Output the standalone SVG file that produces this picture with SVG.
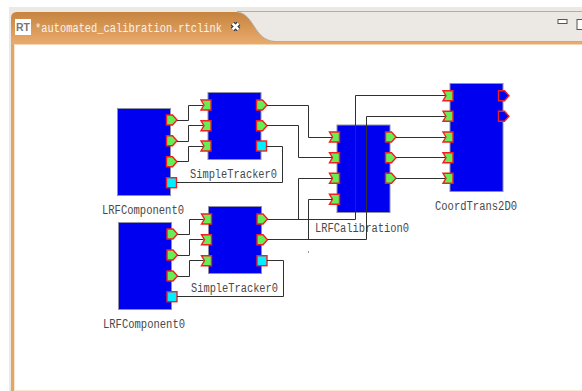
<svg xmlns="http://www.w3.org/2000/svg" width="582" height="391" viewBox="0 0 582 391">
<style>
.block{fill:#0000f0;stroke:#8f8fa8;stroke-width:1}
.in{fill:#66ee55;stroke:#f02020;stroke-width:1.400}
.out{fill:#66ee55;stroke:#f02020;stroke-width:1.400}
.svc{fill:#00eeff;stroke:#f02020;stroke-width:1.400}
.blue{fill:#0000f0;stroke:#f02020;stroke-width:1.400}
.lbl{font-family:"Liberation Mono","DejaVu Sans Mono",monospace;font-size:12px;fill:#484848}
.wire{fill:none;stroke:#303030;stroke-width:1}
</style>
<defs>
<linearGradient id="tabg" x1="0" y1="0" x2="0" y2="1"><stop offset="0" stop-color="#c6843f"/><stop offset="1" stop-color="#e9ab6c"/></linearGradient>
<path id="pin" class="in" d="M-5,-5H5V5H-5L-2,0Z"/>
<path id="pout" class="out" d="M-5,-5H1L5.500,0L1,5H-5Z"/>
<path id="pblue" class="blue" d="M-5,-5H1L5.500,0L1,5H-5Z"/>
<rect id="psvc" class="svc" x="-5" y="-5" width="10" height="10"/>
</defs>
<rect width="582" height="391" fill="#fff"/>
<g id="window">
<rect x="9" y="7" width="573" height="37" fill="#ece9e4"/>
<rect x="9" y="44" width="2" height="347" fill="#ece9e4"/>
<path d="M237,11.500H582" stroke="#b5aea5" stroke-width="1" fill="none"/>
<path d="M272,41.500H582" stroke="#b5aea5" stroke-width="1" fill="none"/>
<rect x="14" y="42" width="568" height="2.500" fill="#e9ab6c"/>
<path d="M11,44V18Q11,12 17,12H237C255,14 253,40 275,41.500L275,44Z" fill="url(#tabg)"/>
<path d="M237,12C255,14 253,40 275,41.500" fill="none" stroke="#b5aea5" stroke-width="1"/>
<rect x="11" y="44" width="3" height="347" fill="#e2a566"/>
<rect x="14" y="44" width="1" height="347" fill="#fbe6d2"/>
<rect x="14" y="390" width="568" height="1" fill="#fbe6d2"/>
<rect x="15" y="19" width="16" height="16" fill="#fff"/>
<text x="16" y="31" font-family="Liberation Sans,sans-serif" font-size="10" font-weight="700" fill="#777" textLength="14" lengthAdjust="spacingAndGlyphs">RT</text>
<text x="35" y="32" font-family="Liberation Mono,monospace" font-size="12" fill="#fbf3ea" textLength="187" lengthAdjust="spacingAndGlyphs">*automated_calibration.rtclink</text>
<path d="M232.500,23.500L238.500,29.500M238.500,23.500L232.500,29.500" stroke="#333" stroke-width="5" fill="none"/>
<path d="M232.500,23.500L238.500,29.500M238.500,23.500L232.500,29.500" stroke="#fff" stroke-width="2.500" fill="none"/>
<rect x="558" y="19.500" width="9" height="4" fill="#fff" stroke="#555" stroke-width="1"/>
<rect x="577" y="19.500" width="8" height="10" fill="#fff" stroke="#555" stroke-width="1"/>
</g>
<g id="LRFComponent0-a">
<rect class="block" x="117.500" y="108.500" width="53" height="87"/>
<use href="#pout" x="171.500" y="120"/><use href="#pout" x="171.500" y="140.700"/><use href="#pout" x="171.500" y="161.700"/><use href="#psvc" x="171.500" y="182.700"/>
<text class="lbl" x="102" y="214" textLength="82" lengthAdjust="spacingAndGlyphs">LRFComponent0</text>
</g>
<g id="SimpleTracker0-a">
<rect class="block" x="208" y="92.500" width="53" height="67"/>
<use href="#pin" x="206" y="105"/><use href="#pin" x="206" y="125.700"/><use href="#pin" x="206" y="146"/>
<use href="#pout" x="261.500" y="105"/><use href="#pout" x="261.500" y="125.700"/><use href="#psvc" x="261.500" y="146"/>
<text class="lbl" x="190" y="178" textLength="87" lengthAdjust="spacingAndGlyphs">SimpleTracker0</text>
</g>
<g id="LRFComponent0-b">
<rect class="block" x="118.500" y="222.500" width="53" height="87"/>
<use href="#pout" x="172" y="234"/><use href="#pout" x="172" y="255"/><use href="#pout" x="172" y="276"/><use href="#psvc" x="172" y="296.700"/>
<text class="lbl" x="103" y="328" textLength="82" lengthAdjust="spacingAndGlyphs">LRFComponent0</text>
</g>
<g id="SimpleTracker0-b">
<rect class="block" x="208.500" y="206.500" width="53" height="67"/>
<use href="#pin" x="206.500" y="219"/><use href="#pin" x="206.500" y="239.700"/><use href="#pin" x="206.500" y="260.700"/>
<use href="#pout" x="262" y="219"/><use href="#pout" x="262" y="239.700"/><use href="#psvc" x="262" y="260.700"/>
<text class="lbl" x="191" y="292" textLength="87" lengthAdjust="spacingAndGlyphs">SimpleTracker0</text>
</g>
<g id="LRFCalibration0">
<rect class="block" x="337" y="125" width="53" height="87.500"/>
<use href="#pin" x="334.500" y="137"/><use href="#pin" x="334.500" y="157.700"/><use href="#pin" x="334.500" y="178.300"/><use href="#pin" x="334.500" y="199.300"/>
<use href="#pout" x="390.500" y="137"/><use href="#pout" x="390.500" y="157.700"/><use href="#pout" x="390.500" y="178.300"/>
<text class="lbl" x="315" y="232" textLength="94" lengthAdjust="spacingAndGlyphs">LRFCalibration0</text>
</g>
<g id="CoordTrans2D0">
<rect class="block" x="450" y="83.500" width="53" height="108"/>
<use href="#pin" x="448" y="95.700"/><use href="#pin" x="448" y="116.300"/><use href="#pin" x="448" y="137"/><use href="#pin" x="448" y="157.700"/><use href="#pin" x="448" y="178.300"/>
<use href="#pblue" x="503.500" y="95.700"/><use href="#pblue" x="503.500" y="116.300"/>
<text class="lbl" x="435" y="210" textLength="82" lengthAdjust="spacingAndGlyphs">CoordTrans2D0</text>
</g>
<g id="connectors" class="wire">
<path class="wire" d="M177,120.500H188.500V105.500H203"/>
<path class="wire" d="M177,141.500H188.500V125.500H203"/>
<path class="wire" d="M177,161.500H188.500V146.500H203"/>
<path class="wire" d="M266.500,146.500H282.500V182.500H176.500"/>
<path class="wire" d="M177.500,234.500H189.500V219.500H203.500"/>
<path class="wire" d="M177.500,255.500H189.500V239.500H203.500"/>
<path class="wire" d="M177.500,276.500H189.500V260.500H203.500"/>
<path class="wire" d="M267,260.500H283.500V296.500H177"/>
<path class="wire" d="M267,105.500H308.500V137.500H332"/>
<path class="wire" d="M267,125.500H298.500V157.500H332"/>
<path class="wire" d="M267.500,219.500H355.500V95.500H445"/>
<path class="wire" d="M298.500,219.500V178.500H332"/>
<path class="wire" d="M267.500,239.500H366.500V116.500H445"/>
<path class="wire" d="M308.500,239.500V199.500H332"/>
<path class="wire" d="M396,137.500H445"/>
<path class="wire" d="M396,157.500H445"/>
<path class="wire" d="M396,178.500H445"/>
<path class="wire" d="M308.500,251.500v1"/>
</g>
</svg>
